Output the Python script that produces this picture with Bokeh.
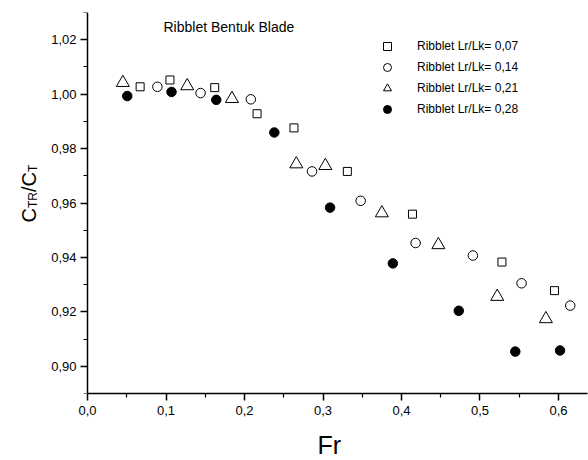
import math
from bokeh.plotting import figure
from bokeh.models import FixedTicker, Label, Legend, LegendItem, Range1d, Title
from bokeh.embed import file_html
from bokeh.resources import INLINE

# ---- data ----
title_text = "Ribblet Bentuk Blade"
x_label = "Fr"
series_labels = ["Ribblet Lr/Lk= 0,07", "Ribblet Lr/Lk= 0,14", "Ribblet Lr/Lk= 0,21", "Ribblet Lr/Lk= 0,28"]

fr_007 = [0.067, 0.105, 0.162, 0.216, 0.263, 0.331, 0.414, 0.528, 0.595]
ct_007 = [1.0027, 1.0052, 1.0024, 0.9928, 0.9876, 0.9716, 0.9559, 0.9383, 0.9278]

fr_014 = [0.089, 0.144, 0.208, 0.286, 0.348, 0.418, 0.491, 0.553, 0.615]
ct_014 = [1.0027, 1.0004, 0.9981, 0.9716, 0.9608, 0.9453, 0.9407, 0.9305, 0.9223]

fr_021 = [0.045, 0.127, 0.184, 0.266, 0.303, 0.375, 0.447, 0.522, 0.584]
ct_021 = [1.0042, 1.0030, 0.9983, 0.9743, 0.9737, 0.9563, 0.9446, 0.9256, 0.9174]

fr_028 = [0.0506, 0.107, 0.164, 0.238, 0.309, 0.389, 0.473, 0.545, 0.602]
ct_028 = [0.9993, 1.0008, 0.9979, 0.9859, 0.9583, 0.9378, 0.9204, 0.9054, 0.9058]

x_ticks = [0.0, 0.1, 0.2, 0.3, 0.4, 0.5, 0.6]
x_tick_labels = ["0,0", "0,1", "0,2", "0,3", "0,4", "0,5", "0,6"]
x_minor = [0.05, 0.15, 0.25, 0.35, 0.45, 0.55]
y_ticks = [0.90, 0.92, 0.94, 0.96, 0.98, 1.00, 1.02]
y_tick_labels = ["0,90", "0,92", "0,94", "0,96", "0,98", "1,00", "1,02"]
y_minor = [0.89, 0.91, 0.93, 0.95, 0.97, 0.99, 1.01, 1.03]

X_MIN, X_MAX = 0.0, 0.637
Y_MIN, Y_MAX = 0.89, 1.03

FONT = "Liberation Sans"

p = figure(frame_width=587, frame_height=381,
           x_range=Range1d(-0.1109, X_MAX), y_range=Range1d(Y_MIN, Y_MAX),
           output_backend="svg", toolbar_location=None,
           min_border_left=0, min_border_top=12, min_border_right=1, min_border_bottom=20)
p.outline_line_color = None
p.xgrid.visible = False
p.ygrid.visible = False
p.background_fill_color = "white"
p.border_fill_color = "white"

for ax in (p.xaxis[0], p.yaxis[0]):
    ax.axis_line_width = 1.5
    ax.axis_line_color = "black"
    ax.major_tick_line_color = "black"
    ax.minor_tick_line_color = "black"
    ax.major_tick_line_width = 1.5
    ax.minor_tick_line_width = 1.2
    ax.major_tick_out = 7
    ax.major_tick_in = 0
    ax.minor_tick_out = 4
    ax.minor_tick_in = 0
    ax.major_label_text_font = FONT
    ax.major_label_text_font_size = "13px"
    ax.major_label_text_color = "black"

p.xaxis[0].ticker = FixedTicker(ticks=x_ticks, minor_ticks=x_minor)
p.xaxis[0].major_label_overrides = {t: l for t, l in zip(x_ticks, x_tick_labels)}
p.xaxis[0].bounds = (X_MIN, X_MAX)
p.yaxis[0].ticker = FixedTicker(ticks=y_ticks, minor_ticks=y_minor)
p.yaxis[0].major_label_overrides = {t: l for t, l in zip(y_ticks, y_tick_labels)}
p.yaxis[0].bounds = (Y_MIN, Y_MAX)
p.yaxis[0].fixed_location = X_MIN
p.xaxis[0].major_label_standoff = 5
p.yaxis[0].major_label_standoff = 4

p.add_layout(Title(text=x_label, align="left", offset=317, standoff=22,
                   text_font=FONT, text_font_size="25px", text_font_style="normal",
                   text_color="black"), "below")

r1 = p.scatter(fr_007, ct_007, marker="square", size=8, fill_color="white", line_color="black", line_width=1)
r2 = p.scatter(fr_014, ct_014, marker="circle", size=9.5, fill_color="white", line_color="black", line_width=1)
r3 = p.scatter(fr_021, ct_021, marker="triangle", size=13, fill_color="white", line_color="black", line_width=1)
r4 = p.scatter(fr_028, ct_028, marker="circle", size=9.5, fill_color="black", line_color="black", line_width=1)

legend = Legend(items=[LegendItem(label=series_labels[i], renderers=[r]) for i, r in enumerate([r1, r2, r3, r4])],
                location=(377, 274), orientation="vertical")
legend.border_line_color = None
legend.background_fill_alpha = 0
legend.padding = 0
legend.margin = 0
legend.spacing = 1
legend.glyph_width = 20
legend.glyph_height = 20
legend.label_height = 20
legend.label_standoff = 20
legend.label_text_font = FONT
legend.label_text_font_size = "12px"
legend.label_text_color = "black"
p.add_layout(legend, "center")

p.add_layout(Label(x=163, y=367, x_units="screen", y_units="screen", text=title_text,
                   text_font=FONT, text_font_size="14px", text_color="black",
                   text_baseline="alphabetic", text_align="left"))

# y axis label C_TR / C_T built from rotated pieces (text reads bottom to top)
big = 20
small = 12
base_x = 28
y0 = 393 - 222
pieces = [("C", big, 0), ("TR", small, 4), ("/C", big, 0), ("T", small, 4)]
widths = {"C": 0.722, "TR": 1.333, "/C": 1.0, "T": 0.611}
cur = y0
for txt, fs, dx in pieces:
    p.add_layout(Label(x=base_x + dx, y=cur, x_units="screen", y_units="screen", text=txt,
                       angle=math.pi / 2, text_font=FONT, text_font_size=f"{fs}px", text_color="black",
                       text_align="left", text_baseline="alphabetic"))
    cur += widths[txt] * fs

open("out.html", "w").write(file_html(p, INLINE))
